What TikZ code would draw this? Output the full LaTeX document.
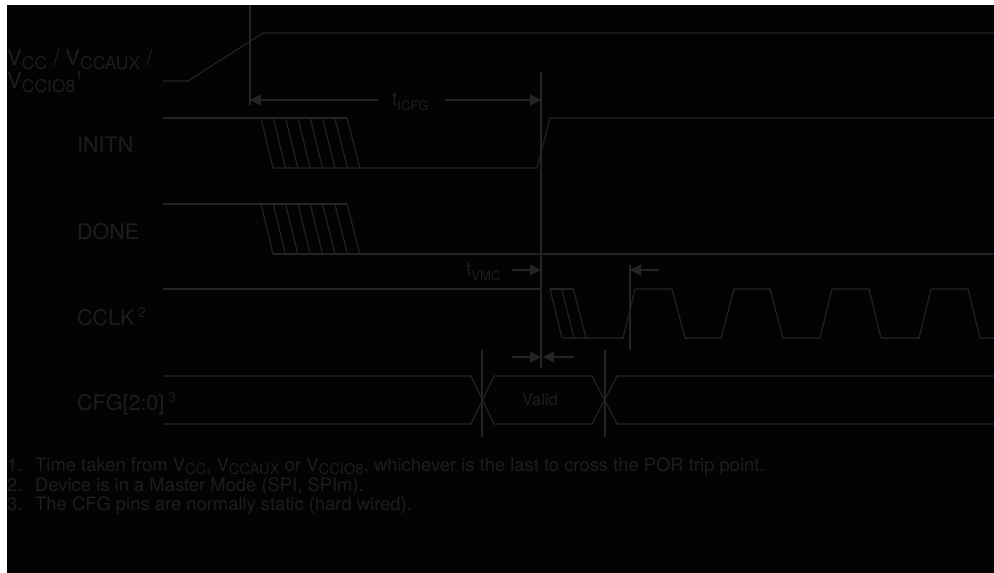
\documentclass[tikz,border=0pt]{standalone}
\usepackage{fontspec}
\setmainfont{TeX Gyre Heros}
\usetikzlibrary{arrows.meta}
\definecolor{bgc}{RGB}{4,3,4}
\definecolor{lnc}{RGB}{38,35,38}
\definecolor{txc}{RGB}{31,28,31}
\newcommand{\lsub}[3]{\raisebox{-#2pt}{\fontsize{#1}{#1}\selectfont #3}}
\newcommand{\lsup}[3]{\raisebox{#2pt}{\fontsize{#1}{#1}\selectfont #3}}
\begin{document}
\begin{tikzpicture}[x=1pt,y=-1pt,
  sig/.style={draw=lnc, line width=1.1pt, line join=miter},
  lab/.style={text=txc, font=\fontsize{21.5}{21.5}\selectfont, inner sep=0pt, anchor=base west},
  note/.style={text=txc, font=\fontsize{18.4}{18.4}\selectfont, inner sep=0pt, anchor=base west},
  dimarrow/.style={draw=lnc, line width=1.1pt, -{Triangle[length=11pt,width=11pt]}}]
\useasboundingbox (0,0) rectangle (994,573);
\fill[white] (0,0) rectangle (994,573);
\fill[bgc] (7,5) rectangle (994,573);

% reference verticals
\draw[sig] (250,5) -- (250,105);
\draw[sig] (541,72) -- (541,368);
\draw[sig] (630,265) -- (630,350);
\draw[sig] (482,350) -- (482,437);
\draw[sig] (605,350) -- (605,437);

% VCC
\draw[sig] (163,81) -- (188,81) -- (263,33) -- (994,33);

% INITN
\draw[sig] (163,118) -- (347,118);
\foreach \i in {0,...,7} \draw[sig] (261+12.3*\i,118) -- (273+12.4*\i,168);
\draw[sig] (273,168) -- (537,168) -- (550,118) -- (994,118);

% DONE
\draw[sig] (163,204) -- (347,204);
\foreach \i in {0,...,7} \draw[sig] (261+12.3*\i,204) -- (273+12.4*\i,254);
\draw[sig] (273,254) -- (994,254);

% CCLK
\draw[sig] (163,289) -- (541,289);
\draw[sig] (550,289) -- (573,289);
\foreach \i in {0,1,2} \draw[sig] (550+11.7*\i,289) -- (562+12*\i,338);
\draw[sig] (562,338) -- (623,338) -- (635,289) -- (672,289) -- (685,338) -- (721,338) -- (734,289) -- (770,289) -- (783,338) -- (820,338) -- (832,289) -- (869,289) -- (881,338) -- (919,338) -- (931,289) -- (968,289) -- (980,338) -- (994,338);

% CFG
\draw[sig] (163,376) -- (471,376) -- (494,424) -- (592,424) -- (617,376) -- (994,376);
\draw[sig] (163,424) -- (471,424) -- (494,376) -- (592,376) -- (617,424) -- (994,424);

% dimension arrows
\coordinate (ia1) at (378,100); \coordinate (ib1) at (250,100);
\coordinate (ia2) at (445,100); \coordinate (ib2) at (541,100);
\coordinate (va1) at (512,270); \coordinate (vb1) at (541,270);
\coordinate (va2) at (659,270); \coordinate (vb2) at (630,270);
\coordinate (sa1) at (512,357); \coordinate (sb1) at (541,357);
\coordinate (sa2) at (574,357); \coordinate (sb2) at (543,357);
\draw[dimarrow] (ia1) -- (ib1);
\draw[dimarrow] (ia2) -- (ib2);
\draw[dimarrow] (va1) -- (vb1);
\draw[dimarrow] (va2) -- (vb2);
\draw[dimarrow] (sa1) -- (sb1);
\draw[dimarrow] (sa2) -- (sb2);

% labels
\node[lab, font=\fontsize{22}{22}\selectfont] (vcc1) at (7,65) {V\lsub{17.5}{4}{CC} / V\lsub{17.5}{4}{CCAUX} /};
\node[lab, font=\fontsize{22}{22}\selectfont] (vcc2) at (7,88) {V\lsub{17.5}{4}{CCIO8}\lsup{13}{8}{1}};
\node[lab] (initn) at (77,152) {INITN};
\node[lab] (done) at (77,239) {DONE};
\node[lab] (cclk) at (77,325) {CCLK\,\lsup{14}{8}{2}};
\node[lab] (cfg) at (77,410) {CFG[2:0]\,\lsup{14}{8}{3}};
\node[lab, font=\fontsize{19}{19}\selectfont] (ticfg) at (392,105) {t\lsub{13}{5}{ICFG}};
\node[lab, font=\fontsize{19}{19}\selectfont] (tvmc) at (466,275) {t\lsub{13}{5}{VMC}};
\node[text=txc, font=\fontsize{16.5}{16.5}\selectfont, inner sep=0pt] (valid) at (540,400) {Valid};

% notes
\node[note] (n1) at (7,471) {1.};
\node[note] (t1) at (35,471) {Time taken from V\lsub{14.8}{3}{CC}, V\lsub{14.8}{3}{CCAUX} or V\lsub{14.8}{3}{CCIO8}, whichever is the last to cross the POR trip point.};
\node[note] (n2) at (7,491) {2.};
\node[note] (t2) at (35,491) {Device is in a Master Mode (SPI, SPIm).};
\node[note] (n3) at (7,510) {3.};
\node[note] (t3) at (35,510) {The CFG pins are normally static (hard wired).};
\end{tikzpicture}
\end{document}
